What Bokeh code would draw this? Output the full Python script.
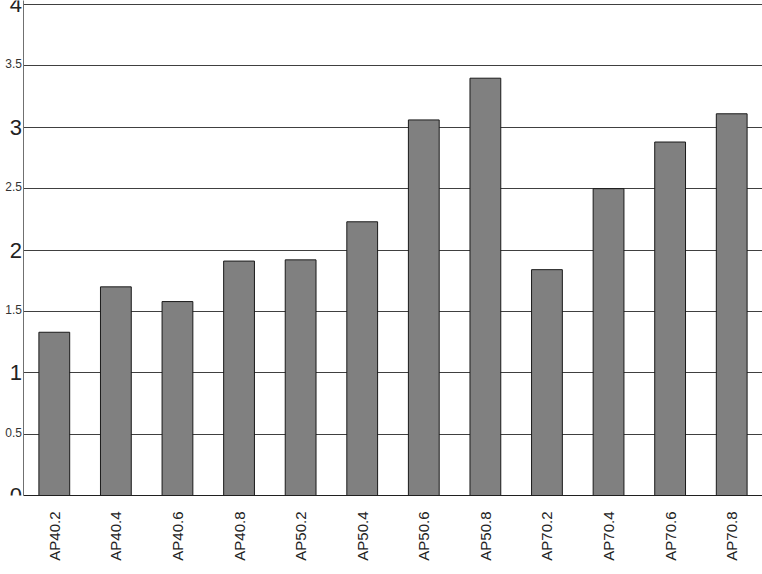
import math
from bokeh.plotting import figure
from bokeh.layouts import row
from bokeh.models import ColumnDataSource, FixedTicker, Range1d
from bokeh.core.properties import value
from bokeh.embed import file_html
from bokeh.resources import INLINE

categories = ["AP40.2", "AP40.4", "AP40.6", "AP40.8", "AP50.2", "AP50.4",
              "AP50.6", "AP50.8", "AP70.2", "AP70.4", "AP70.6", "AP70.8"]
values = [1.33, 1.70, 1.58, 1.91, 1.92, 2.23, 3.06, 3.40, 1.84, 2.50, 2.88, 3.11]
major_ticks = [0, 1, 2, 3, 4]
major_tick_labels = ["0", "1", "2", "3", "4"]
minor_ticks = [0.5, 1.5, 2.5, 3.5]
minor_tick_labels = ["0.5", "1.5", "2.5", "3.5"]

H = 574
BOTTOM = 79
yr = Range1d(0, 4.033)

# main chart
p = figure(x_range=categories, y_range=yr, width=739, height=H,
           output_backend="svg", toolbar_location=None,
           min_border_left=0, min_border_right=0, min_border_top=0,
           min_border_bottom=BOTTOM)
p.outline_line_color = None
p.background_fill_color = "white"

src = ColumnDataSource(dict(cat=categories, val=values))
p.vbar(x="cat", top="val", width=0.5, source=src,
       fill_color="#808080", line_color="#1a1a1a", line_width=1)

p.xgrid.grid_line_color = None
p.ygrid.ticker = FixedTicker(ticks=major_ticks + minor_ticks)
p.ygrid.grid_line_color = "#404040"
p.ygrid.grid_line_width = 1

ya = p.yaxis[0]
ya.ticker = FixedTicker(ticks=[])
ya.major_tick_line_color = None
ya.minor_tick_line_color = None
ya.axis_line_color = "#707070"
ya.major_label_standoff = 0

p.xaxis.axis_line_color = "#202020"
p.xaxis.major_tick_line_color = None
p.xaxis.major_label_orientation = math.pi / 2
p.xaxis.major_label_text_font = "Liberation Sans"
p.xaxis.major_label_text_font_size = "15px"
p.xaxis.major_label_text_color = "#222222"
p.xaxis.major_label_standoff = 10

# narrow left strip holding the y tick labels, sharing the main y scale
pl = figure(x_range=Range1d(0, 1), y_range=yr, width=23, height=H,
            output_backend="svg", toolbar_location=None,
            x_axis_location=None, y_axis_location=None,
            min_border_left=0, min_border_right=0, min_border_top=0,
            min_border_bottom=BOTTOM)
pl.grid.visible = False
pl.outline_line_color = None

maj = ColumnDataSource(dict(x=[1] * len(major_ticks), y=major_ticks, t=major_tick_labels))
mnr = ColumnDataSource(dict(x=[1] * len(minor_ticks), y=minor_ticks, t=minor_tick_labels))
pl.text(x="x", y="y", text="t", source=maj, x_offset=-1.5, y_offset=0,
        text_align="right", text_baseline="alphabetic",
        text_font=value("Liberation Sans"), text_font_size="22px",
        text_color="#222222")
pl.text(x="x", y="y", text="t", source=mnr, x_offset=-1.5, y_offset=-2,
        text_align="right", text_baseline="middle",
        text_font=value("Liberation Sans"), text_font_size="12px",
        text_color="#333333")

layout = row(pl, p, spacing=0)
open("out.html", "w").write(file_html(layout, INLINE))
